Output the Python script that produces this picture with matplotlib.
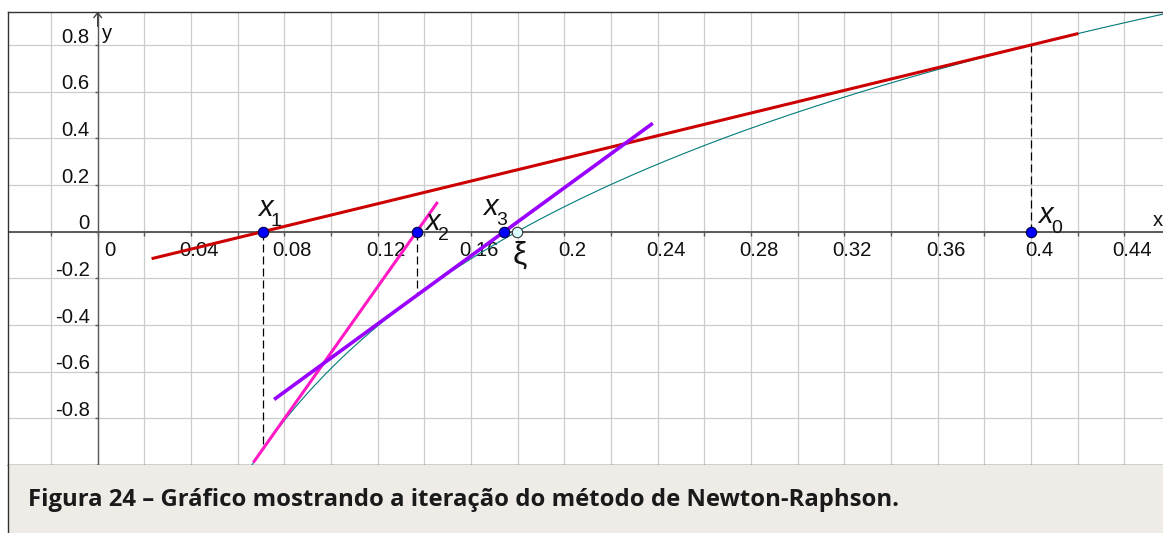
import numpy as np
import matplotlib
matplotlib.use("Agg")
import matplotlib.pyplot as plt
from matplotlib.lines import Line2D
from matplotlib.patches import Rectangle
from matplotlib.markers import TICKDOWN, TICKLEFT

plt.rcParams['font.family'] = ['Liberation Sans', 'DejaVu Sans']

# root of f(x) = ln(x / xi) and the Newton iterates x0..x3
xi = 0.1797
x_iter = [0.4, 0.0707, 0.1367, 0.1742]
iter_subs = ['0', '1', '2', '3']

# drawn extent of each tangent line (x from, x to)
tangent_spans = [(0.0231, 0.4203), (0.0667, 0.1457), (0.0756, 0.2379)]
tangent_colors = ['#cc0000', '#ff1ac6', '#9a00ff']
tangent_widths = [2.2, 2.2, 2.6]

# axis tick labels
x_tick_vals = [0, 0.04, 0.08, 0.12, 0.16, 0.2, 0.24, 0.28, 0.32, 0.36, 0.4, 0.44]
x_tick_text = ['0', '0.04', '0.08', '0.12', '0.16', '0.2', '0.24', '0.28', '0.32', '0.36', '0.4', '0.44']
y_tick_vals = [0.8, 0.6, 0.4, 0.2, 0, -0.2, -0.4, -0.6, -0.8]
y_tick_text = ['0.8', '0.6', '0.4', '0.2', '0', '-0.2', '-0.4', '-0.6', '-0.8']
x_grid = [round(-0.02 + 0.02 * i, 2) for i in range(24)]
y_grid = [-1.0, -0.8, -0.6, -0.4, -0.2, 0, 0.2, 0.4, 0.6, 0.8]

caption = 'Figura 24 – Gráfico mostrando a iteração do método de Newton-Raphson.'


def f(x):
    return np.log(np.asarray(x) / xi)


W, H = 1163, 533
fig = plt.figure(figsize=(W / 100, H / 100), dpi=100)
fig.patch.set_facecolor('white')

# caption strip below the plot
fig.patches.append(Rectangle((8.3 / W, 0), 1 - 8.3 / W, 68 / H, transform=fig.transFigure,
                             facecolor='#efece8', edgecolor='none', zorder=0))
fig.lines.append(Line2D([8.3 / W, 8.3 / W], [0, 68 / H], transform=fig.transFigure,
                        color='#333333', lw=1.0))
fig.text(28 / W, (H - 506) / H, caption, fontfamily=['Open Sans', 'DejaVu Sans'],
         fontweight='bold', fontsize=17.2, color='#1a1a1a', va='baseline')

ax = fig.add_axes([8.3 / W, 68 / H, 1 - 8.3 / W, (465 - 11.7) / H])
ax.set_xlim(-0.03831, 0.45656)
ax.set_ylim(-1.0, 0.9429)

for side in ['top', 'left', 'bottom']:
    ax.spines[side].set_color('#333333')
    ax.spines[side].set_linewidth(1.0)
ax.spines['right'].set_visible(False)

ax.set_xticks(x_grid)
ax.set_yticks(y_grid)
ax.tick_params(length=0, labelbottom=False, labelleft=False)
ax.grid(True, color='#cccccc', lw=0.9)
ax.set_axisbelow(True)

# coordinate axes with small tick marks
ax.axhline(0, color='#5a5a5a', lw=1.4, zorder=1.2)
ax.axvline(0, color='#5a5a5a', lw=1.0, zorder=1.2)
ax.plot(x_grid, [0] * len(x_grid), ls='none', marker=TICKDOWN, ms=3, mew=1.0,
        color='#5a5a5a', zorder=1.2)
ax.plot([0] * len(y_grid), y_grid, ls='none', marker=TICKLEFT, ms=2.3, mew=1.0,
        color='#5a5a5a', zorder=1.2)
ax.annotate('', xy=(0, 0.9429), xytext=(0, 0.88),
            arrowprops=dict(arrowstyle='->,head_length=0.35,head_width=0.28',
                            color='#444444', lw=1.0, shrinkA=0, shrinkB=0), zorder=1.3)

tick_fs = 14.6
for v, t in zip(x_tick_vals, x_tick_text):
    if t == '0':
        ax.annotate(t, (v, 0), xytext=(7, -24), textcoords='offset pixels',
                    ha='left', va='baseline', fontsize=tick_fs, color='#111111', zorder=1.5)
    else:
        ax.annotate(t, (v, 0), xytext=(8, -24), textcoords='offset pixels',
                    ha='center', va='baseline', fontsize=tick_fs, color='#111111', zorder=1.5)
for v, t in zip(y_tick_vals, y_tick_text):
    ax.annotate(t, (0, v), xytext=(-8, 2.5), textcoords='offset pixels',
                ha='right', va='baseline', fontsize=tick_fs, color='#111111', zorder=1.5)

ax.annotate('x', (0.4523, 0), xytext=(0, 6), textcoords='offset pixels',
            ha='left', va='baseline', fontsize=tick_fs, color='#111111')
ax.annotate('y', (0, 0.9429), xytext=(4, -27), textcoords='offset pixels',
            ha='left', va='baseline', fontsize=tick_fs, color='#111111')

# the function
xs = np.linspace(0.0655, 0.47, 400)
ax.plot(xs, f(xs), color='#007a7a', lw=0.8, zorder=2)

# tangent lines of each Newton step
for n, ((a, b), c, w) in enumerate(zip(tangent_spans, tangent_colors, tangent_widths)):
    xn, xn1 = x_iter[n], x_iter[n + 1]
    slope = f(xn) / (xn - xn1)
    seg = np.array([a, b])
    ax.plot(seg, slope * (seg - xn1), color=c, lw=w, solid_capstyle='butt', zorder=3)

# vertical guides from the axis to the curve
for xn in x_iter[:3]:
    ax.plot([xn, xn], [0, f(xn)], color='black', lw=0.9, dashes=(6.4, 3.2), zorder=2.5)

ax.plot(x_iter, [0] * len(x_iter), ls='none', marker='o', ms=7.5, mfc='#0000ff',
        mec='#000044', mew=0.8, zorder=5)
ax.plot([xi], [0], ls='none', marker='o', ms=7.5, mfc='#dcffff', mec='#333333',
        mew=0.8, zorder=5)

# point names: italic x with a lowered index
label_offsets = [(7, 8.7), (-4.7, 15.7), (8.3, 1.7), (-21, 16.7)]
for xn, sub, (dx, dy) in zip(x_iter, iter_subs, label_offsets):
    ax.annotate('x', (xn, 0), xytext=(dx, dy), textcoords='offset pixels',
                ha='left', va='baseline', fontsize=21, style='italic',
                color='#111111', zorder=6)
    ax.annotate(sub, (xn, 0), xytext=(dx + 13, dy - 10.5), textcoords='offset pixels',
                ha='left', va='baseline', fontsize=14, color='#111111', zorder=6)
ax.annotate('ξ', (xi, 0), xytext=(-4, -9), textcoords='offset pixels',
            ha='left', va='top', fontsize=23, color='#111111', zorder=6)

fig.savefig('out.png', dpi=100)
